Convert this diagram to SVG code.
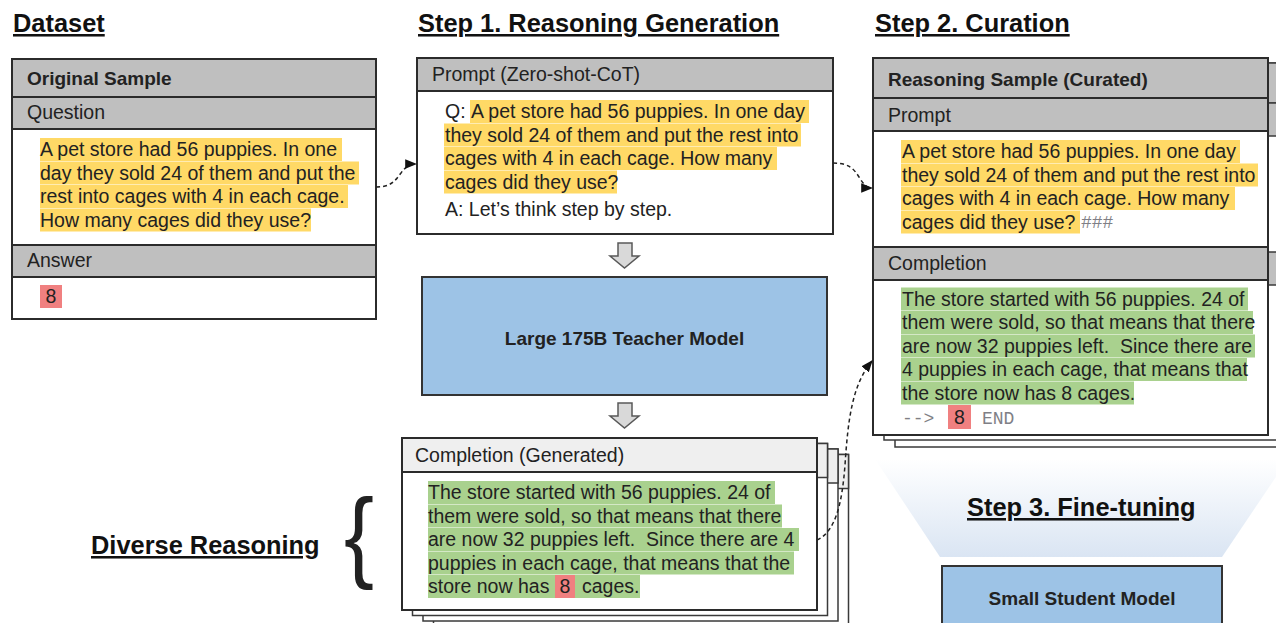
<svg xmlns="http://www.w3.org/2000/svg" width="1276" height="623" viewBox="0 0 1276 623">
  <defs>
    <style>
      .box { fill: #ffffff; stroke: #2b2b2b; stroke-width: 2; }
      .back { fill: #ffffff; stroke: #3a3a3a; stroke-width: 1.5; }
      .hdr { fill: #bfbfbf; stroke: #2b2b2b; stroke-width: 2; }
      .hdr-b { fill: #bfbfbf; stroke: #3a3a3a; stroke-width: 1.5; }
      .hdr-lt { fill: #efefef; stroke: #2b2b2b; stroke-width: 2; }
      .hdr-lt-b { fill: #efefef; stroke: #3a3a3a; stroke-width: 1.5; }
      .model { fill: #9dc3e6; stroke: #333333; stroke-width: 2; }
      .hy { fill: #ffd966; }
      .hg { fill: #a9d18e; }
      .hr { fill: #f08080; }
      text { font-family: "Liberation Sans", Arial, sans-serif; fill: #222222; white-space: pre; }
      .t { font-size: 19.5px; }
      .b { font-size: 19px; font-weight: bold; }
      .title { font-size: 25.4px; font-weight: bold; text-decoration: underline; fill: #111111; }
      .mono { font-family: "Liberation Mono", "Courier New", monospace; font-size: 18px; fill: #7f7f86; }
      .mid { text-anchor: middle; }
      .dash { fill: none; stroke: #222222; stroke-width: 1.5; stroke-dasharray: 4 3; marker-end: url(#head); }
      .block { fill: #d9d9d9; stroke: #595959; stroke-width: 1.5; stroke-linejoin: miter; }
    </style>
    <marker id="head" viewBox="0 0 10 8" refX="9" refY="4" markerWidth="12" markerHeight="10" markerUnits="userSpaceOnUse" orient="auto">
      <path d="M0,0 L10,4 L0,8 z" fill="#111111"/>
    </marker>
    <linearGradient id="funnel" x1="0" y1="0" x2="0" y2="1">
      <stop offset="0" stop-color="#ffffff"/>
      <stop offset="1" stop-color="#dae5f3"/>
    </linearGradient>
  </defs>

  <rect x="0" y="0" width="1276" height="623" fill="#ffffff"/>

  <!-- column headings -->
  <g id="headings">
    <text class="title" x="13" y="32">Dataset</text>
    <text class="title" x="418" y="32">Step 1. Reasoning Generation</text>
    <text class="title" x="875" y="32">Step 2. Curation</text>
  </g>

  <!-- dataset sample -->
  <g id="original-sample">
    <rect class="box" x="12" y="59" width="364" height="260"/>
    <rect class="hdr" x="12" y="59" width="364" height="38"/>
    <rect class="hdr" x="12" y="97" width="364" height="32"/>
    <rect class="hdr" x="12" y="245" width="364" height="32"/>
    <text class="b" x="27" y="85">Original Sample</text>
    <text class="t" x="27" y="119">Question</text>
    <rect class="hy" x="40" y="138" width="302" height="23"/>
    <rect class="hy" x="40" y="161.5" width="319" height="23"/>
    <rect class="hy" x="40" y="185" width="308" height="23"/>
    <rect class="hy" x="40" y="208.5" width="271" height="23"/>
    <text class="t" x="40" y="156">A pet store had 56 puppies. In one</text>
    <text class="t" x="40" y="179.5">day they sold 24 of them and put the</text>
    <text class="t" x="40" y="203">rest into cages with 4 in each cage.</text>
    <text class="t" x="40" y="226.5">How many cages did they use?</text>
    <text class="t" x="27" y="267">Answer</text>
    <rect class="hr" x="40" y="285" width="22" height="23"/>
    <text class="t mid" x="51" y="303">8</text>
  </g>

  <!-- zero-shot chain-of-thought prompt -->
  <g id="prompt">
    <rect class="box" x="417" y="58" width="416" height="176"/>
    <rect class="hdr" x="417" y="58" width="416" height="33"/>
    <text class="t" x="432" y="81">Prompt (Zero-shot-CoT)</text>
    <rect class="hy" x="470" y="100" width="339" height="23"/>
    <rect class="hy" x="444" y="123.5" width="357" height="23"/>
    <rect class="hy" x="444" y="147" width="333" height="23"/>
    <rect class="hy" x="444" y="170.5" width="173" height="23"/>
    <text class="t" x="445" y="118">Q: </text>
    <text class="t" x="471" y="118">A pet store had 56 puppies. In one day</text>
    <text class="t" x="445" y="141.5">they sold 24 of them and put the rest into</text>
    <text class="t" x="445" y="165">cages with 4 in each cage. How many</text>
    <text class="t" x="445" y="188.5">cages did they use?</text>
    <text class="t" x="445" y="216">A: Let’s think step by step.</text>
  </g>

  <!-- teacher model -->
  <g id="teacher">
    <rect class="model" x="422" y="277" width="405" height="118"/>
    <text class="b mid" x="624.5" y="345">Large 175B Teacher Model</text>
  </g>

  <!-- generated completions (stack of samples) -->
  <g id="generated">
    <rect class="back" x="433.5" y="454.5" width="415" height="172"/>
    <rect class="hdr-lt-b" x="433.5" y="454.5" width="415" height="34"/>
    <rect class="back" x="423" y="449" width="415" height="172"/>
    <rect class="hdr-lt-b" x="423" y="449" width="415" height="34"/>
    <rect class="back" x="412.5" y="443.5" width="415" height="172"/>
    <rect class="hdr-lt-b" x="412.5" y="443.5" width="415" height="34"/>
    <rect class="box" x="402" y="438" width="415" height="172"/>
    <rect class="hdr-lt" x="402" y="438" width="415" height="34"/>
    <text class="t" x="415" y="462">Completion (Generated)</text>
    <rect class="hg" x="428" y="481" width="347" height="23"/>
    <rect class="hg" x="428" y="504.5" width="354" height="23"/>
    <rect class="hg" x="428" y="528" width="371" height="23"/>
    <rect class="hg" x="428" y="551.5" width="366" height="23"/>
    <rect class="hg" x="428" y="575" width="127" height="23"/>
    <rect class="hr" x="555" y="575" width="20" height="23"/>
    <rect class="hg" x="575" y="575" width="65" height="23"/>
    <text class="t" x="428" y="499">The store started with 56 puppies. 24 of</text>
    <text class="t" x="428" y="522.5">them were sold, so that means that there</text>
    <text class="t" x="428" y="546">are now 32 puppies left.  Since there are 4</text>
    <text class="t" x="428" y="569.5">puppies in each cage, that means that the</text>
    <text class="t" x="428" y="593">store now has </text>
    <text class="t mid" x="565" y="593">8</text>
    <text class="t" x="582" y="593">cages.</text>
  </g>

  <!-- curated reasoning sample (stack) -->
  <g id="curated">
    <rect class="back" x="895" y="70" width="395" height="377"/>
    <rect class="back" x="884" y="63" width="395" height="377"/>
    <rect class="hdr-b" x="884" y="63" width="395" height="40"/>
    <rect class="hdr-b" x="884" y="103" width="395" height="33"/>
    <rect class="hdr-b" x="884" y="252" width="395" height="33"/>
    <rect class="box" x="873" y="58" width="395" height="377"/>
    <rect class="hdr" x="873" y="58" width="395" height="40"/>
    <rect class="hdr" x="873" y="98" width="395" height="33"/>
    <rect class="hdr" x="873" y="247" width="395" height="33"/>
    <text class="b" x="888" y="86">Reasoning Sample (Curated)</text>
    <text class="t" x="888" y="122">Prompt</text>
    <rect class="hy" x="901" y="140" width="339" height="23"/>
    <rect class="hy" x="901" y="163.5" width="357" height="23"/>
    <rect class="hy" x="901" y="187" width="334" height="23"/>
    <rect class="hy" x="901" y="210.5" width="179" height="23"/>
    <text class="t" x="902" y="158">A pet store had 56 puppies. In one day</text>
    <text class="t" x="902" y="181.5">they sold 24 of them and put the rest into</text>
    <text class="t" x="902" y="205">cages with 4 in each cage. How many</text>
    <text class="t" x="902" y="228.5">cages did they use? </text>
    <text class="mono" x="1081" y="228">###</text>
    <text class="t" x="888" y="270">Completion</text>
    <rect class="hg" x="901" y="287.5" width="347" height="23"/>
    <rect class="hg" x="901" y="311" width="352" height="23"/>
    <rect class="hg" x="901" y="334.5" width="354" height="23"/>
    <rect class="hg" x="901" y="358" width="346" height="23"/>
    <rect class="hg" x="901" y="381.5" width="233" height="23"/>
    <text class="t" x="902" y="305.5">The store started with 56 puppies. 24 of</text>
    <text class="t" x="902" y="329">them were sold, so that means that there</text>
    <text class="t" x="902" y="352.5">are now 32 puppies left.  Since there are</text>
    <text class="t" x="902" y="376">4 puppies in each cage, that means that</text>
    <text class="t" x="902" y="399.5">the store now has 8 cages.</text>
    <text class="mono" x="902" y="424">--&gt;</text>
    <rect class="hr" x="948" y="405" width="23" height="24"/>
    <text class="t mid" x="959.5" y="424">8</text>
    <text class="mono" x="982" y="424">END</text>
  </g>

  <!-- fine-tuning funnel -->
  <g id="fine-tuning">
    <polygon points="875,459 1288,459 1222,557 940,557" fill="url(#funnel)"/>
    <text class="title" x="967" y="516">Step 3. Fine-tuning</text>
  </g>

  <!-- student model -->
  <g id="student">
    <rect class="model" x="942" y="566" width="280" height="70"/>
    <text class="b mid" x="1082" y="605">Small Student Model</text>
  </g>

  <!-- diverse reasoning label -->
  <g id="diverse-reasoning">
    <text class="title" x="91" y="554">Diverse Reasoning</text>
    <text x="0" y="0" transform="translate(344,569) scale(0.9,1)" font-family="'Liberation Serif', 'Times New Roman', serif" font-size="100" fill="#111111">{</text>
  </g>

  <!-- connectors -->
  <g id="connectors">
    <path class="dash" d="M376,187 C391,187 395,181 401,173 C406,166 410,164 416,164"/>
    <path class="dash" d="M833,163 C849,163 854,169 859,177 C864,185 867,188 872,188"/>
    <path class="dash" d="M817,540 C835,532 842,505 845,465 C848,420 852,385 872,361"/>
    <path class="block" d="M618,243 H632 V256 H639 L624.5,268 L610,256 H618 Z"/>
    <path class="block" d="M618,403 H632 V416 H639 L624.5,428 L610,416 H618 Z"/>
  </g>
</svg>
